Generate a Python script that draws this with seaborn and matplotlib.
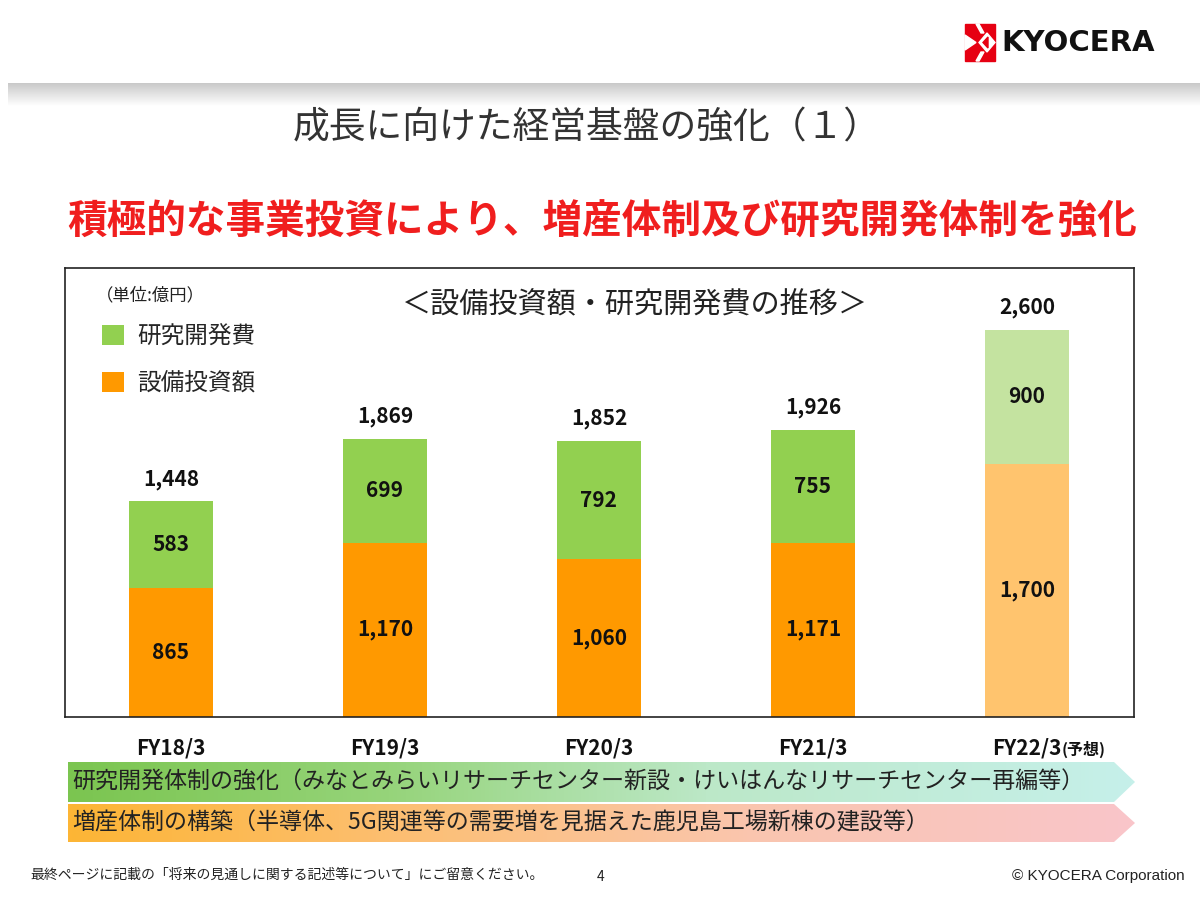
import numpy as np
import pandas as pd
import matplotlib
matplotlib.use("Agg")
import matplotlib.pyplot as plt
import seaborn as sns
from matplotlib.patches import Polygon, Patch, Rectangle
from matplotlib.colors import LinearSegmentedColormap

# ---------------- data ----------------
categories = ["FY18/3", "FY19/3", "FY20/3", "FY21/3", "FY22/3"]
capex = [865, 1170, 1060, 1171, 1700]          # 設備投資額
rnd = [583, 699, 792, 755, 900]                # 研究開発費
totals = [1448, 1869, 1852, 1926, 2600]
forecast_suffix = "(予想)"

title = "成長に向けた経営基盤の強化（１）"
headline = "積極的な事業投資により、増産体制及び研究開発体制を強化"
chart_title = "＜設備投資額・研究開発費の推移＞"
unit_label = "（単位:億円）"
legend_labels = ["研究開発費", "設備投資額"]
arrow_texts = ["研究開発体制の強化（みなとみらいリサーチセンター新設・けいはんなリサーチセンター再編等）",
               "増産体制の構築（半導体、5G関連等の需要増を見据えた鹿児島工場新棟の建設等）"]
footer_note = "最終ページに記載の「将来の見通しに関する記述等について」にご留意ください。"
page_no = "4"
copyright_txt = "© KYOCERA Corporation"

# ---------------- style ----------------
sns.set_theme(style="white")
plt.rcParams['font.family'] = ['Noto Sans CJK JP', 'DejaVu Sans']

GREEN = "#92D050"
ORANGE = "#FF9900"
GREEN_L = "#C4E3A0"
ORANGE_L = "#FFC46E"
green_pal = {c: (GREEN_L if i == 4 else GREEN) for i, c in enumerate(categories)}
orange_pal = {c: (ORANGE_L if i == 4 else ORANGE) for i, c in enumerate(categories)}

W, H = 1200, 900
fig = plt.figure(figsize=(12, 9), dpi=100)
fig.patch.set_facecolor("white")

# background / decoration axes in pixel coordinates
bg = fig.add_axes([0, 0, 1, 1], zorder=0)
bg.set_xlim(0, W)
bg.set_ylim(H, 0)
bg.axis("off")

# top gray band gradient
band = np.linspace(0, 1, 64).reshape(-1, 1)
band_cmap = LinearSegmentedColormap.from_list("band", ["#C9C9C9", "#FFFFFF"])
bg.imshow(band, cmap=band_cmap, extent=(8, W, 106, 83), aspect="auto", zorder=1)

# logo mark
bg.add_patch(Rectangle((965, 24), 30, 37, color="#E60012", zorder=2))
for pts in [[(965, 35), (965, 50), (976, 42.5)],
            [(979, 42.5), (987, 33), (995, 42.5), (987, 52)],
            [(976, 24), (979, 24), (984, 33), (981, 33)],
            [(976, 61), (979, 61), (984, 52), (981, 52)]]:
    bg.add_patch(Polygon(pts, closed=True, color="white", zorder=3))
bg.add_patch(Polygon([(983, 42.5), (988, 37), (988, 48)], closed=True, color="#E60012", zorder=4))
bg.text(1001, 43, "KYOCERA", fontsize=21, fontweight="bold", color="#111111",
        family=["DejaVu Sans"], va="center", ha="left", zorder=3)

# titles
bg.text(587, 128, title, fontsize=26.5, color="#333333", ha="center", va="center")
bg.text(602, 222, headline, fontsize=28.5, fontweight="bold", color="#F01E1E", ha="center", va="center")

# gradient arrows
def grad_arrow(y0, y1, colors, text):
    x0, x1, tip = 68, 1114, 1135
    poly = Polygon([(x0, y0), (x1, y0), (tip, (y0 + y1) / 2), (x1, y1), (x0, y1)],
                   closed=True, facecolor="none", edgecolor="none")
    bg.add_patch(poly)
    cmap = LinearSegmentedColormap.from_list("g", colors)
    grad = np.linspace(0, 1, 256).reshape(1, -1)
    im = bg.imshow(grad, cmap=cmap, extent=(x0, tip, y1, y0), aspect="auto", zorder=1)
    im.set_clip_path(poly)
    bg.text(72, (y0 + y1) / 2, text, fontsize=16.6, color="#222222", ha="left", va="center", zorder=3)

grad_arrow(762, 802, [(0, "#7BC550"), (0.3, "#96D47A"), (0.6, "#BCE8C8"), (1, "#C6F0EA")], arrow_texts[0])
grad_arrow(804, 842, [(0, "#FDB535"), (0.35, "#FCC07A"), (0.65, "#FAC6B0"), (1, "#F9C5CA")], arrow_texts[1])

# footer
bg.text(30, 875, footer_note, fontsize=10, color="#222222", ha="left", va="center")
bg.text(601, 877, page_no, fontsize=10, color="#222222", ha="center", va="center")
bg.text(1185, 876, copyright_txt, fontsize=11, color="#222222", ha="right", va="center",
        family=["Liberation Sans", "DejaVu Sans"])

# ---------------- main chart ----------------
left, right, top, bottom = 65, 1134, 268, 717
ax = fig.add_axes([left / W, 1 - bottom / H, (right - left) / W, (bottom - top) / H], zorder=1)
ax.set_facecolor("white")

df = pd.DataFrame({"category": categories, "capex": capex, "rnd": rnd, "total": totals})

sns.barplot(data=df, x="category", y="total", hue="category", palette=green_pal,
            width=0.39, saturation=1, errorbar=None, legend=False, linewidth=0, ax=ax)
sns.barplot(data=df, x="category", y="capex", hue="category", palette=orange_pal,
            width=0.39, saturation=1, errorbar=None, legend=False, linewidth=0, ax=ax)

ax.set_xlim(-0.495, 4.5)
ax.set_ylim(0, 3015)
ax.set_xlabel("")
ax.set_ylabel("")
ax.set_yticks([])
ax.set_xticks(range(len(categories)))
ax.set_xticklabels(categories, fontsize=15, fontweight="bold", color="#111111")
ax.tick_params(axis="x", length=0, pad=15)
for sp in ax.spines.values():
    sp.set_visible(True)
    sp.set_color("#222222")
    sp.set_linewidth(1.2)

last_lbl = ax.get_xticklabels()[-1]
ax.annotate(forecast_suffix, xy=(1, 0.45), xycoords=last_lbl, fontsize=11.5, fontweight="bold",
            color="#111111", ha="left", va="center")

for i in range(len(categories)):
    ax.text(i, capex[i] / 2, f"{capex[i]:,}", ha="center", va="center",
            fontsize=15, fontweight="bold", color="#111111")
    ax.text(i, capex[i] + rnd[i] / 2, f"{rnd[i]:,}", ha="center", va="center",
            fontsize=15, fontweight="bold", color="#111111")
    ax.annotate(f"{totals[i]:,}", xy=(i, totals[i]), xytext=(0, 16), textcoords="offset points",
                ha="center", va="center", fontsize=15, fontweight="bold", color="#111111")

# chart title & unit
ax.text(635, 305, chart_title, transform=bg.transData, fontsize=21, color="#222222",
        ha="center", va="center")
ax.text(96, 295, unit_label, transform=bg.transData, fontsize=12.5, color="#222222",
        ha="left", va="center")

handles = [Patch(facecolor=GREEN, edgecolor="none"), Patch(facecolor=ORANGE, edgecolor="none")]
ax.legend(handles, legend_labels, loc="upper left", bbox_to_anchor=(102 / W, 1 - 325 / H),
          bbox_transform=fig.transFigure, frameon=False, fontsize=17, handlelength=0.95,
          handleheight=0.95, handletextpad=0.55, labelspacing=1.0, borderpad=0, borderaxespad=0)

fig.savefig("out.png", dpi=100, facecolor="white")
